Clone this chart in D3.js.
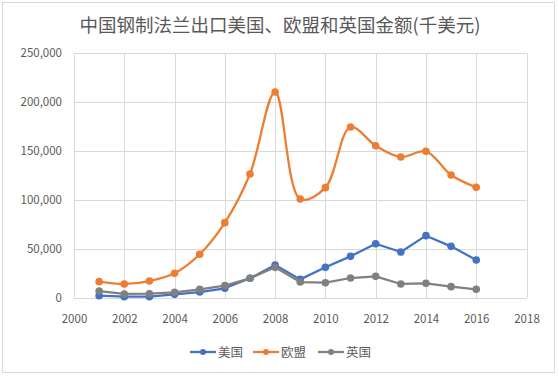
<!DOCTYPE html>
<meta charset="utf-8">
<style>
body { margin: 0; background: #fff; }
text { font-family: "Noto Sans CJK SC", "Noto Sans", sans-serif; fill: #595959; }
.grid line { stroke: #d9d9d9; stroke-width: 1px; }
.axis path, .axis line { display: none; }
</style>
<svg width="559" height="376"></svg>
<script src="https://cdn.jsdelivr.net/npm/d3@7"></script>
<script>

var years = [2001, 2002, 2003, 2004, 2005, 2006, 2007, 2008, 2009, 2010, 2011, 2012, 2013, 2014, 2015, 2016];
var usa = [2400, 1400, 1400, 3700, 6100, 9900, 20100, 33700, 19000, 31300, 42500, 55400, 46900, 63600, 52700, 38800];
var eu = [16700, 14300, 17300, 25200, 44600, 76900, 126500, 210200, 101000, 112600, 174500, 155400, 143900, 149700, 125500, 112900];
var uk = [7100, 4100, 4400, 5800, 8900, 12600, 20100, 31300, 16300, 15600, 20400, 22100, 14300, 15000, 11600, 8900];
var seriesNames = ["美国", "欧盟", "英国"];
var xTicks = [2000, 2002, 2004, 2006, 2008, 2010, 2012, 2014, 2016, 2018];
var yTicks = [0, 50000, 100000, 150000, 200000, 250000];
var title = "中国钢制法兰出口美国、欧盟和英国金额(千美元)";

var svg = d3.select("svg");

// outer border
svg.append("rect")
    .attr("x", 2.5).attr("y", 2.5)
    .attr("width", 552).attr("height", 370)
    .attr("fill", "#fff")
    .attr("stroke", "#d9d9d9");

var x = d3.scaleLinear().domain([2000, 2018]).range([74, 526.5]),
    y = d3.scaleLinear().domain([0, 250000]).range([298, 53]);

svg.append("text")
    .attr("x", 280).attr("y", 32)
    .attr("text-anchor", "middle")
    .style("font-size", "18.5px")
    .text(title);

// gridlines
var grid = svg.append("g").attr("class", "grid");
grid.selectAll(".h").data(yTicks).enter().append("line")
    .attr("x1", x(2000)).attr("x2", x(2018))
    .attr("y1", function(d) { return Math.round(y(d)) + 0.5; })
    .attr("y2", function(d) { return Math.round(y(d)) + 0.5; });
grid.selectAll(".v").data(xTicks).enter().append("line")
    .attr("y1", y(0)).attr("y2", y(250000))
    .attr("x1", function(d) { return Math.round(x(d)) + 0.5; })
    .attr("x2", function(d) { return Math.round(x(d)) + 0.5; });

// axes
svg.append("g")
    .attr("class", "axis")
    .attr("transform", "translate(0," + y(0) + ")")
    .call(d3.axisBottom(x).tickValues(xTicks).tickFormat(d3.format("d")).tickSize(0).tickPadding(17))
    .selectAll("text").style("font-size", "11.5px").attr("fill", "#595959");

svg.append("g")
    .attr("class", "axis")
    .attr("transform", "translate(" + x(2000) + ",0)")
    .call(d3.axisLeft(y).tickValues(yTicks).tickFormat(d3.format(",")).tickSize(0).tickPadding(12))
    .selectAll("text").style("font-size", "11.5px").attr("fill", "#595959");

var series = [
  {name: seriesNames[0], values: usa, color: "#4472C4", curve: d3.curveLinear},
  {name: seriesNames[1], values: eu, color: "#ED7D31", curve: d3.curveCatmullRom.alpha(0.5)},
  {name: seriesNames[2], values: uk, color: "#808080", curve: d3.curveLinear}
];

series.forEach(function(s) {
  var line = d3.line()
      .curve(s.curve)
      .x(function(d, i) { return x(years[i]); })
      .y(function(d) { return y(d); });

  svg.append("path")
      .datum(s.values)
      .attr("fill", "none")
      .attr("stroke", s.color)
      .attr("stroke-width", 2.25)
      .attr("stroke-linejoin", "round")
      .attr("d", line);

  svg.append("g").selectAll("circle")
      .data(s.values)
      .enter().append("circle")
      .attr("cx", function(d, i) { return x(years[i]); })
      .attr("cy", function(d) { return y(d); })
      .attr("r", 3.8)
      .attr("fill", s.color);
});

// legend
var legendX = [190, 253, 318];
var legend = svg.selectAll(".legend")
    .data(series)
    .enter().append("g")
    .attr("class", "legend")
    .attr("transform", function(d, i) { return "translate(" + legendX[i] + ",352)"; });

legend.append("line")
    .attr("x1", 0).attr("x2", 26)
    .attr("stroke", function(d) { return d.color; })
    .attr("stroke-width", 2.25);
legend.append("circle")
    .attr("cx", 13).attr("r", 3)
    .attr("fill", function(d) { return d.color; });
legend.append("text")
    .attr("x", 28).attr("y", 4.5)
    .style("font-size", "12.5px")
    .text(function(d) { return d.name; });

</script>
